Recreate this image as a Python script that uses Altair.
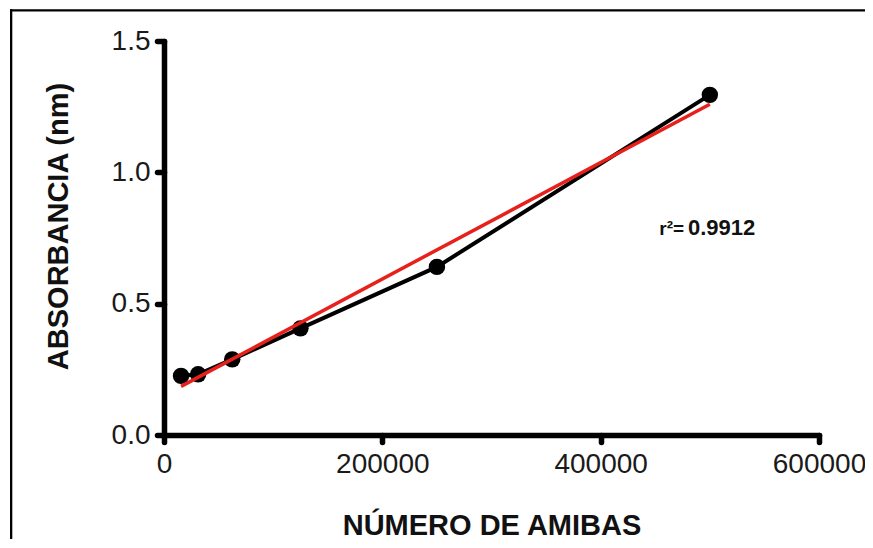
import altair as alt
import pandas as pd

# Data
cells = [15625, 31250, 62500, 125000, 250000, 500000]
absorbance = [0.225, 0.231, 0.288, 0.406, 0.640, 1.295]

x_ticks = [0, 200000, 400000, 600000]
y_ticks = [0.0, 0.5, 1.0, 1.5]

r2_prefix = "r²="
r2_value = "0.9912"
annot_x = [476500, 480000]
annot_y = [0.761, 0.761]

df = pd.DataFrame({"cells": cells, "abs": absorbance})
prefix_df = pd.DataFrame({"x": [annot_x[0]], "y": [annot_y[0]], "t": [r2_prefix]})
value_df = pd.DataFrame({"x": [annot_x[1]], "y": [annot_y[1]], "t": [r2_value]})
frame_top_df = pd.DataFrame({"side": ["top"]})
frame_left_df = pd.DataFrame({"side": ["left"]})

FONT = "Liberation Sans"

axis_common = dict(
    grid=False,
    domainColor="black",
    domainWidth=5.5,
    domainCap="round",
    tickColor="black",
    tickWidth=5.5,
    tickSize=7,
    tickCap="round",
    labelFont=FONT,
    labelFontSize=28,
    labelColor="#1a1a1a",
    labelFlush=False,
    labelOverlap=False,
    titleFont=FONT,
    titleFontSize=29,
    titleFontWeight="bold",
    titleColor="#111",
)

x_enc = alt.X(
    "cells:Q",
    scale=alt.Scale(domain=[0, 600000], nice=False, zero=True),
    axis=alt.Axis(
        title="NÚMERO DE AMIBAS",
        values=x_ticks,
        format="d",
        labelPadding=8,
        titleX=327.5,
        titleY=99,
        titleBaseline="alphabetic",
        titleAlign="center",
        **axis_common,
    ),
)
y_enc = alt.Y(
    "abs:Q",
    scale=alt.Scale(domain=[0, 1.5], nice=False),
    axis=alt.Axis(
        title="ABSORBANCIA (nm)",
        values=y_ticks,
        format=".1f",
        labelPadding=7,
        titleX=-97,
        titleY=185,
        titleAngle=270,
        titleBaseline="alphabetic",
        titleAlign="center",
        **axis_common,
    ),
)

base = alt.Chart(df)

conn = base.mark_line(color="black", strokeWidth=4).encode(x=x_enc, y=y_enc)
pts = base.mark_circle(size=270, color="black", opacity=1).encode(x="cells:Q", y="abs:Q")
fit = (
    base.transform_regression("cells", "abs")
    .mark_line(color="#e8201c", strokeWidth=3.5)
    .encode(x="cells:Q", y="abs:Q")
)

t1 = alt.Chart(prefix_df).mark_text(
    font=FONT, fontSize=19, fontWeight="bold", align="right", baseline="alphabetic", color="#111"
).encode(x=alt.X("x:Q"), y=alt.Y("y:Q"), text="t:N")
t2 = alt.Chart(value_df).mark_text(
    font=FONT, fontSize=22, fontWeight="bold", align="left", baseline="alphabetic", color="#111"
).encode(x=alt.X("x:Q"), y=alt.Y("y:Q"), text="t:N")

# Picture frame (decoration): kept inside the chart's own canvas
frame_top = alt.Chart(frame_top_df).mark_rect(color="black", strokeWidth=0).encode(
    x=alt.value(-154), x2=alt.value(701), y=alt.value(-31.7), y2=alt.value(-29.4)
)
frame_left = alt.Chart(frame_left_df).mark_rect(color="black", strokeWidth=0).encode(
    x=alt.value(-154), x2=alt.value(-151.7), y=alt.value(-31.7), y2=alt.value(498)
)

chart = (
    alt.layer(frame_top, frame_left, conn, pts, fit, t1, t2)
    .properties(
        width=655,
        height=394,
        autosize=alt.AutoSizeParams(type="none"),
        padding={"left": 156, "top": 33, "right": 46, "bottom": 104},
    )
    .configure_view(strokeWidth=0)
)

chart.save("out.html", embed_options={"renderer": "svg", "actions": False})
